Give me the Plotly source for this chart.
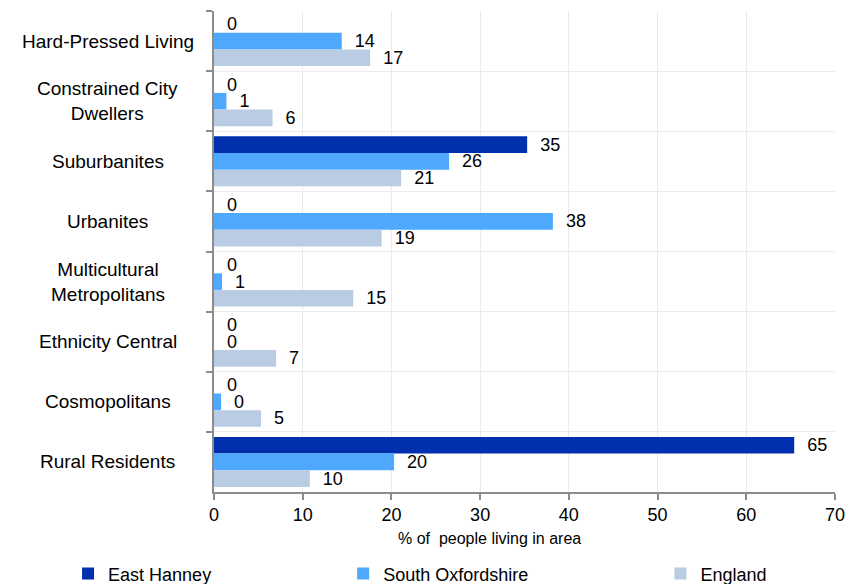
import plotly.graph_objects as go

categories = ["Hard-Pressed Living", "Constrained City Dwellers", "Suburbanites", "Urbanites",
              "Multicultural Metropolitans", "Ethnicity Central", "Cosmopolitans", "Rural Residents"]
category_labels = ["Hard-Pressed Living", "Constrained City<br>Dwellers", "Suburbanites", "Urbanites",
                   "Multicultural<br>Metropolitans", "Ethnicity Central", "Cosmopolitans", "Rural Residents"]

series_names = ["East Hanney", "South Oxfordshire", "England"]
east_hanney = [0, 0, 35.3, 0, 0, 0, 0, 65.4]
south_oxfordshire = [14.4, 1.4, 26.5, 38.2, 0.9, 0, 0.8, 20.3]
england = [17.6, 6.6, 21.1, 18.9, 15.7, 7.0, 5.3, 10.8]
east_hanney_labels = [0, 0, 35, 0, 0, 0, 0, 65]
south_oxfordshire_labels = [14, 1, 26, 38, 1, 0, 0, 20]
england_labels = [17, 6, 21, 19, 15, 7, 5, 10]

x_ticks = [0, 10, 20, 30, 40, 50, 60, 70]
x_title = "% of\u00a0 people living in area"

colors = ["#0030ae", "#4ea8fe", "#b9cce4"]
legend_ids = ["legend", "legend2", "legend3"]
FONT = "Liberation Sans, Arial, Helvetica, sans-serif"

fig = go.Figure()
for name, vals, labs, col, lg in zip(series_names,
                                     [east_hanney, south_oxfordshire, england],
                                     [east_hanney_labels, south_oxfordshire_labels, england_labels],
                                     colors, legend_ids):
    fig.add_trace(go.Bar(
        y=categories, x=vals, orientation="h", name=name,
        marker=dict(color=col, line=dict(width=0)),
        text=["\u00a0\u00a0" + str(v) for v in labs],
        textposition="outside", constraintext="none", cliponaxis=False,
        textfont=dict(size=18, color="#000000", family=FONT),
        legend=lg, hoverinfo="x+y+name",
    ))

grid = "#ebebeb"
axis_col = "#8c8c8c"

leg_common = dict(orientation="h", xanchor="left", yanchor="middle", y=-0.170,
                  font=dict(size=18), bgcolor="rgba(0,0,0,0)", itemwidth=30)

# page body has an 8px margin, so the figure is 848x576 and sits at (8, 8)
fig.update_layout(
    width=848, height=576,
    margin=dict(l=206, r=21, t=3, b=92, autoexpand=False),
    paper_bgcolor="white", plot_bgcolor="white",
    font=dict(family=FONT, size=18, color="#000000"),
    barmode="group", bargap=0.17, bargroupgap=0,
    xaxis=dict(range=[0, 70], tickvals=x_ticks, showgrid=True, gridcolor=grid, gridwidth=1.3,
               showline=True, linecolor=axis_col, linewidth=1.5, ticks="outside", ticklen=6,
               tickcolor=axis_col, tickwidth=1.5, zeroline=False, tickfont=dict(size=18)),
    yaxis=dict(type="category", categoryorder="array", categoryarray=categories,
               autorange="reversed", tickson="boundaries", showgrid=True, gridcolor=grid,
               gridwidth=1.3, showline=True, linecolor=axis_col, linewidth=1.5,
               ticks="outside", ticklen=6, tickcolor=axis_col, tickwidth=1.5,
               showticklabels=False, zeroline=False),
    legend=dict(x=-0.235, **leg_common),
    legend2=dict(x=0.208, **leg_common),
    legend3=dict(x=0.719, **leg_common),
    showlegend=True,
)

for cat, lab in zip(categories, category_labels):
    fig.add_annotation(x=-0.171, xref="paper", y=cat, yref="y", text=lab, showarrow=False,
                       xanchor="center", yanchor="middle", align="center",
                       font=dict(size=19, color="#000000"))

fig.add_annotation(x=0.443, xref="paper", y=-0.096, yref="paper", text=x_title, showarrow=False,
                   xanchor="center", yanchor="middle", font=dict(size=16, color="#000000"))

fig.write_html("out.html")
